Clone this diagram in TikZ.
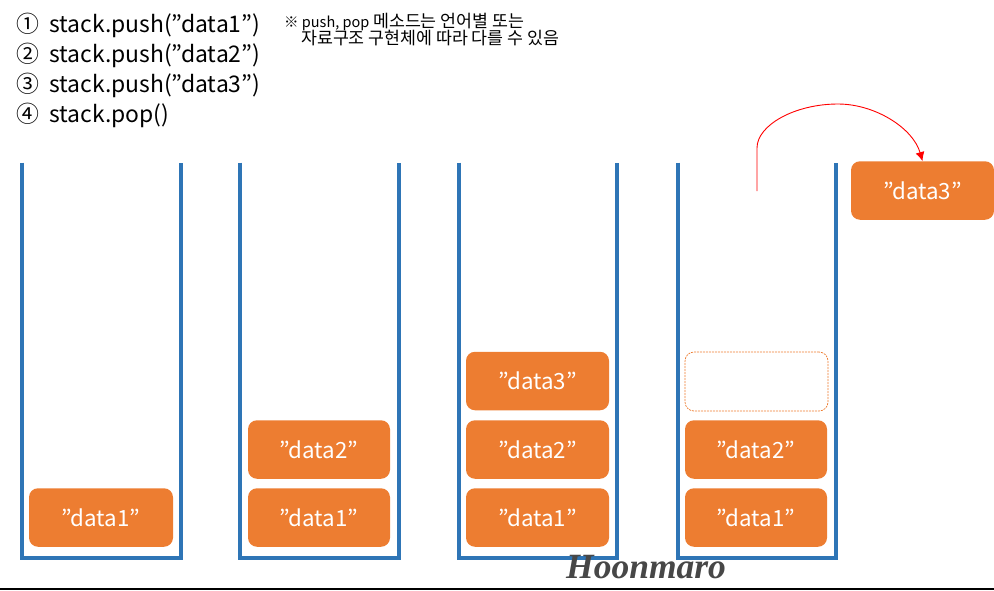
\documentclass[tikz,border=0pt]{standalone}
\usepackage{fontspec}
\setmainfont{Noto Sans CJK KR}
\newfontfamily\markfont{Liberation Serif}[BoldItalicFont={* Bold Italic}]
\newcommand{\latinsmall}[1]{{\fontsize{14.5}{14.5}\selectfont #1}}
\definecolor{stackblue}{HTML}{2E75B6}
\definecolor{boxorange}{HTML}{ED7D31}
\usetikzlibrary{arrows.meta}
\tikzset{
  stackwall/.style={draw=stackblue,line width=4pt,line cap=butt,line join=miter},
  databox/.style={fill=boxorange,rounded corners=9pt,minimum width=#1,minimum height=58.5pt,inner sep=0pt,text=white,font=\fontsize{22.3}{22.3}\selectfont},
  databox/.default=143pt,
  ghostbox/.style={draw=boxorange,line width=0.7pt,dash pattern=on 2pt off 1pt,rounded corners=9pt,minimum width=143pt,minimum height=59pt,inner sep=0pt},
  codeline/.style={anchor=base west,inner sep=0pt,font=\fontsize{22.9}{22.9}\selectfont},
  noteline/.style={anchor=base west,inner sep=0pt,font=\fontsize{17.3}{17.3}\selectfont},
  popcurve/.style={draw=red,line width=0.9pt,-{Latex[length=9pt,width=9pt]}}
}
\begin{document}
\begin{tikzpicture}[x=1pt,y=-1pt]
\useasboundingbox (0,0) rectangle (994,590);
% code lines
\node[codeline] (n1) at (16,32.5) {①};
\node[codeline] (c1) at (49,32.5) {stack.push(”data1”)};
\node[codeline] (n2) at (16,62.5) {②};
\node[codeline] (c2) at (49,62.5) {stack.push(”data2”)};
\node[codeline] (n3) at (16,92.5) {③};
\node[codeline] (c3) at (49,92.5) {stack.push(”data3”)};
\node[codeline] (n4) at (16,122.5) {④};
\node[codeline] (c4) at (49,122.5) {stack.pop()};
% note
\node[noteline] (note1) at (284,27) {\latinsmall{※ push, pop} 메소드는 언어별 또는};
\node[noteline] (note2) at (301,44) {자료구조 구현체에 따라 다를 수 있음};
% stacks
\draw[stackwall] (22,162.5) -- (22,558) -- (181,558) -- (181,162.5);
\draw[stackwall] (240,162.5) -- (240,558) -- (399,558) -- (399,162.5);
\draw[stackwall] (459,162.5) -- (459,558) -- (617,558) -- (617,162.5);
\draw[stackwall] (678,162.5) -- (678,558) -- (836,558) -- (836,162.5);
% boxes
\node[databox=144pt] (a1) at (101,517.5) {”data1”};
\node[databox=142pt] (b1) at (319,517.5) {”data1”};
\node[databox=142pt] (b2) at (319,449.5) {”data2”};
\node[databox=143pt] (d1) at (537.5,517.5) {”data1”};
\node[databox=143pt] (d2) at (537.5,449.5) {”data2”};
\node[databox=143pt] (d3) at (537.5,381) {”data3”};
\node[databox=142pt] (e1) at (756,517.5) {”data1”};
\node[databox=142pt] (e2) at (756,449.5) {”data2”};
\node[ghostbox] (e3) at (756.5,381.5) {};
\node[databox=143pt] (pop) at (922.5,190.5) {”data3”};
% arrow
\coordinate (popstart) at (757,191);
\draw[popcurve] (popstart) -- (757,148) .. controls (757,125) and (795,104) .. (838,104) .. controls (875,104) and (913,128) .. (pop.north);
% baseline
\draw[black,line width=1.3pt] (0,589) -- (994,589);
% watermark
\node[anchor=base west,inner sep=0pt,text=black!72,font=\markfont\bfseries\itshape\fontsize{35.5}{35.5}\selectfont] (mark) at (566,578) {Hoonmaro};
\end{tikzpicture}
\end{document}
